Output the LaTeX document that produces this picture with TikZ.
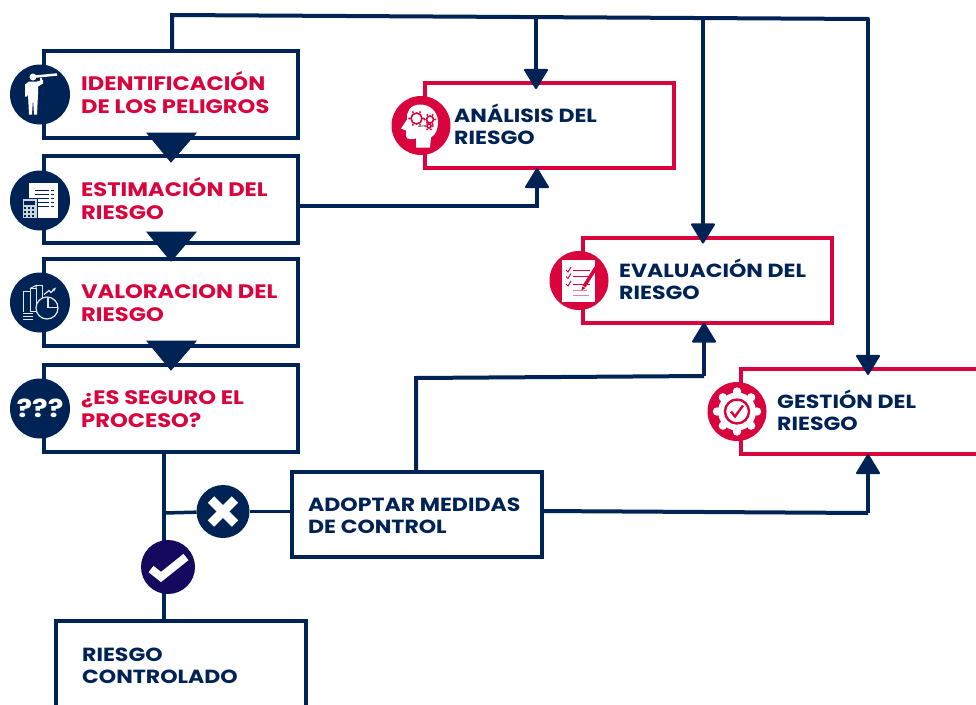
\documentclass[tikz,border=0pt]{standalone}
\usepackage{fontspec}
\setmainfont{Poppins}[FakeStretch=1.16]
\usepackage{tikz}
\usetikzlibrary{arrows.meta,positioning}
\definecolor{navy}{HTML}{002355}
\definecolor{alert}{HTML}{D9043D}
\definecolor{okblue}{HTML}{14085F}

\begin{document}
\begin{tikzpicture}
	[x=1pt,y=-1pt,
	navybox/.style={draw=navy, line width=4pt, fill=white, rectangle, outer sep=0pt, minimum width=254pt, minimum height=87pt},
	redbox/.style={draw=alert, line width=4pt, fill=white, rectangle, outer sep=0pt, minimum width=249pt, minimum height=85pt},
	redtext/.style={text=alert, font=\bfseries\fontsize{19.5}{23}\selectfont, align=left, anchor=west, inner sep=0pt},
	navytext/.style={text=navy, font=\bfseries\fontsize{19}{22}\selectfont, align=left, anchor=west, inner sep=0pt},
	badge/.style={circle, fill=navy, minimum size=60pt, inner sep=0pt, outer sep=0pt},
	redbadge/.style={circle, fill=alert, minimum size=59pt, inner sep=0pt, outer sep=0pt},
	flow/.style={draw=navy, line width=4pt},
	flowin/.style={flow, -{Triangle[width=25pt,length=21pt,line width=2pt,round]}},
	flowtop/.style={flowin, shorten >=-6pt},
	stepdown/.style={fill=navy, draw=navy, line width=1pt}]
	\useasboundingbox (0,0) rectangle (976,704);

	% boxes
	\node[navybox] (identif) at (171,94.5) {};
	\node[navybox] (estim) at (171,199.5) {};
	\node[navybox] (valor) at (171,302.5) {};
	\node[navybox] (seguro) at (171,408.5) {};
	\node[redbox] (analisis) at (549.5,125.5) {};
	\node[redbox] (evalua) at (707,280) {};
	\node[redbox, anchor=north west, minimum width=280pt] (gestion) at (741,369) {};
	\node[navybox, minimum width=250pt, minimum height=85pt] (medidas) at (417,514.5) {};
	\node[navybox, anchor=north west, minimum width=250pt, minimum height=120pt] (control) at (56,621) {};

	% corners of the lines
	\coordinate (topleft) at (172,15);
	\coordinate (topright) at (868,19);
	\coordinate (topa) at (536,16.7);
	\coordinate (tope) at (703,17.8);
	\coordinate (esta) at (537,206);
	\coordinate (mede) at (704,376);
	\coordinate (medup) at (416,378);
	\coordinate (medg) at (868,513);
	\coordinate (splitx) at (164,513);
	\coordinate (okpos) at (168,567);

	% lines
	\draw[flow, line cap=round] (identif.north -| topleft) -- (topleft) -- (topright);
	\draw[flowtop] (topright) -- (topright |- gestion.north);
	\draw[flowtop] (topa) -- (topa |- analisis.north);
	\draw[flowtop] (tope) -- (tope |- evalua.north);
	\draw[flowin] (estim.east |- 0,206) -- (esta) -- (esta |- analisis.south);
	\draw[flow] (medidas.north -| medup) -- (medup) -- (mede);
	\draw[flowin] (mede) -- (mede |- evalua.south);
	\draw[flow] (medidas.east |- 0,511) -- (medg);
	\draw[flowin] (medg) -- (medg |- gestion.south);
	\draw[flow, line width=3.5pt] (seguro.south -| splitx) -- (control.north -| splitx);
	\node[badge, minimum size=53pt] (no) at (223,511.5) {};
	\draw[flow, line width=3.5pt] (splitx) -- (no);
	\draw[flow, line width=3.5pt] (no) -- (medidas.west |- no);
	\node[badge, fill=okblue, minimum size=54pt] (yes) at (okpos) {};

	% arrows between the steps
	\fill[stepdown] (147,133) -- (196,133) -- (171,162) -- cycle;
	\fill[stepdown] (147,232) -- (196,232) -- (171,261) -- cycle;
	\fill[stepdown] (147,341) -- (196,341) -- (171,370) -- cycle;

	% round icons
	\node[badge] (iconi) at (40,94.5) {};
	\node[badge] (icone) at (40,200.5) {};
	\node[badge] (iconv) at (40,302.5) {};
	\node[badge, text=white, font=\bfseries\fontsize{25}{25}\selectfont] (iconq) at (40,408.5) {???};
	\node[redbadge] (icona) at (421,125.5) {};
	\node[redbadge] (iconev) at (579,280.5) {};
	\node[redbadge] (icong) at (737,411.5) {};

	% telescope
	\begin{scope}[shift={(40,94.5)}]
		\fill[white] (-7,-17.5) circle (3.5);
		\fill[white] (-11,-13) -- (-3,-13) -- (3,-15) -- (3,-11) -- (-2,-8) -- (-2,0) -- (-3,20) -- (-6,20) -- (-7,4) -- (-8,20) -- (-11,20) -- (-12,0) -- (-13,2) -- (-15,2) -- (-15,-10) -- cycle;
		\draw[white, line width=2.5pt] (-4,-18) -- (17,-20);
		\draw[white, line width=1.5pt] (1,-17) -- (1,-12);
	\end{scope}
	% sheet and calculator
	\begin{scope}[shift={(40,200.5)}]
		\fill[white] (-11,-18) rectangle (18,17);
		\foreach \yy in {-10,-6,-2,2,6}
			\draw[navy, line width=1.3pt] (-5,\yy) -- (9,\yy) (11,\yy) -- (14,\yy);
		\fill[white!80!navy] (-18,-2) rectangle (-3,18);
		\draw[navy, line width=.6pt] (-18,-2) rectangle (-3,18);
		\fill[navy] (-16,0) rectangle (-5,4);
		\foreach \xx in {-15,-11,-7}
			\foreach \yy in {7,11,15}
				\fill[navy] (\xx-1,\yy-1) rectangle (\xx+1,\yy+1);
	\end{scope}
	% bars and pie
	\begin{scope}[shift={(40,302.5)}, draw=white!90!navy, line width=1pt]
		\draw (-17,9) -- (-17,-11) -- (-10,-11) -- (-10,9);
		\draw (-10,-11) -- (-10,-14) -- (-4,-14) -- (-4,9) -- (-10,9) -- cycle;
		\draw (-4,-17) -- (2,-17) -- (2,-4);
		\draw (-10,-14) -- (-4,-17) -- (-4,-14);
		\draw[line width=1.5pt] (-17,11) -- (-7,11) (-17,14) -- (-7,14) (-17,17) -- (-7,17);
		\fill[navy] (7,5.5) circle (11);
		\draw[line width=1.2pt] (7,5.5) circle (11);
		\draw[line width=1.2pt] (8,-5) -- (8,5) -- (18,5);
		\draw[line width=1.2pt, -{Stealth[length=4pt]}] (4,-8) -- (9,-12) -- (11,-10) -- (16,-15);
	\end{scope}
	% head with gears
	\begin{scope}[shift={(421,125.5)}]
		\fill[white] (9,22) -- (10,12) .. controls (15,9) and (17,3) .. (17,-3) .. controls (17,-15) and (8,-21) .. (-1,-21) .. controls (-11,-21) and (-15,-13) .. (-14,-6) -- (-20,3) -- (-15,5) -- (-15,11) .. controls (-14,14) and (-10,14) .. (-5,13) -- (-5,22) -- cycle;
		\foreach \gx/\gy/\gr in {-4.5/-7/5.5,9/-6/3.5,8/0.5/2}{
			\draw[alert, line width=1.6pt] (\gx,\gy) circle (\gr);
			\foreach \aa in {0,60,...,300}
				\fill[alert] (\gx,\gy) ++(\aa:\gr+1.8) circle (1.1);
		}
		\draw[gray, line width=1pt] (-3,1) -- (6,0);
	\end{scope}
	% checklist
	\begin{scope}[shift={(579,280.5)}]
		\fill[white] (-17,-20.5) rectangle (16,21);
		\foreach \yy in {-10.5,-4,3.5}{
			\draw[alert, line width=1pt] (-6,\yy) -- (11,\yy);
			\draw[alert, line width=1pt] (-13,\yy) -- (-11,\yy+2) -- (-8,\yy-3);
		}
		\draw[alert!50, line width=1pt] (-6,10) -- (8,10) (-6,15) -- (10,15);
		\draw[alert, line width=3.5pt] (17,-13) -- (5,6);
		\fill[alert] (6.5,7.5) -- (3,6) -- (2.5,10) -- cycle;
	\end{scope}
	% gear
	\begin{scope}[shift={(737,411.5)}]
		\foreach \aa in {0,45,...,315}
			\fill[white] (\aa:20) circle (4.2);
		\fill[white] (0,0) circle (19);
		\foreach \aa in {22.5,67.5,...,337.5}
			\fill[alert] (\aa:22) circle (2.6);
		\draw[alert, line width=2.4pt] (0,0) circle (12);
		\draw[alert, line width=2.4pt] (-6,0) -- (-2,5) -- (6,-6);
	\end{scope}
	% answers
	\draw[white, line width=9pt] ([shift={(-12,-12)}]no.center) -- ++(24,24);
	\draw[white, line width=9pt] ([shift={(-12,12)}]no.center) -- ++(24,-24);
	\draw[white, line width=8pt] ([shift={(-17,2)}]yes.center) -- ++(10,8) -- ++(25,-20);

	% texts
	\node[redtext] (textidentif) at (81,93) {IDENTIFICACIÓN\\DE LOS PELIGROS};
	\node[redtext] (textestim) at (81,199) {ESTIMACIÓN DEL\\RIESGO};
	\node[redtext] (textvalor) at (81,303) {VALORACION DEL\\RIESGO};
	\node[redtext] (textseguro) at (81,409.5) {¿ES SEGURO EL\\PROCESO?};
	\node[navytext] (textanalisis) at (454,124.5) {ANÁLISIS DEL\\RIESGO};
	\node[navytext] (textevalua) at (619,279.5) {EVALUACIÓN DEL\\RIESGO};
	\node[navytext] (textgestion) at (777,410.5) {GESTIÓN DEL\\RIESGO};
	\node[navytext] (textmedidas) at (308,515.5) {ADOPTAR MEDIDAS\\DE CONTROL};
	\node[navytext] (textcontrol) at (82,666) {RIESGO\\CONTROLADO};
\end{tikzpicture}
\end{document}
